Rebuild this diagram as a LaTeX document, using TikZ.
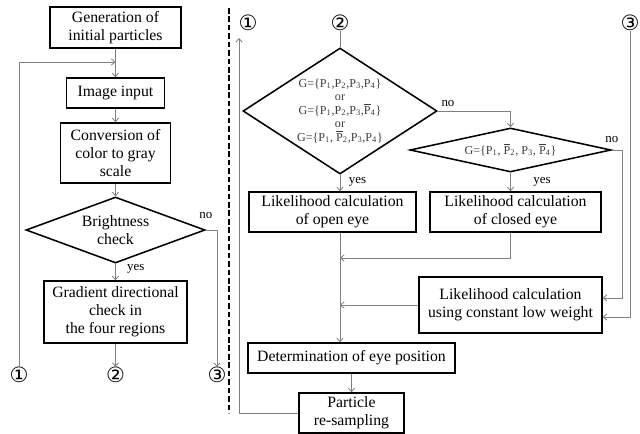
\documentclass[tikz,border=0pt]{standalone}
\usepackage{fontspec}
\setmainfont{Liberation Serif}
\newfontfamily\symfont{DejaVu Sans}
\usetikzlibrary{arrows.meta,shapes.geometric}
\definecolor{wire}{HTML}{808080}
\definecolor{gtext}{HTML}{3C3C3C}
\newcommand\Pn[1]{P\textsubscript{#1}}
\newcommand\Pbar[1]{$\overline{\mbox{P}}$\textsubscript{#1}}
\tikzset{box/.style={draw=black,line width=1.1pt,inner sep=0pt,align=center,
 font=\fontsize{11.2}{12.8}\selectfont},
 test/.style={draw=black,line width=1.1pt,shape=diamond,inner sep=0pt,align=center},
 gfont/.style={font=\fontsize{8.6}{9.6}\selectfont,text=gtext},
 arr/.style={-{Straight Barb[length=2.5pt,width=4.5pt]},line width=.6pt,draw=wire},
 wireline/.style={line width=.6pt,draw=wire},
 lbl/.style={font=\fontsize{9.2}{10}\selectfont,inner sep=1pt},
 cnum/.style={font=\symfont\fontsize{15}{15}\selectfont,inner sep=0pt}}

\begin{document}
\begin{tikzpicture}[x=0.025cm,y=-0.025cm]
\useasboundingbox (0,0) rectangle (640,434);
% left column
\node[box,minimum width=3.275cm,minimum height=1.025cm] (gen) at (115.5,27.5) {Generation of\\initial particles};
\node[box,minimum width=2.45cm,minimum height=.75cm] (img) at (115.5,93) {Image input};
\node[box,minimum width=2.75cm,minimum height=1.5cm] (conv) at (115.5,153) {Conversion of\\color to gray\\scale};
\node[test,minimum width=4.475cm,minimum height=1.65cm,aspect=2.7,
 font=\fontsize{11.2}{12.8}\selectfont] (bright) at (115.5,230) {Brightness\\check};
\node[box,minimum width=3.575cm,minimum height=1.55cm] (grad) at (115.5,312) {Gradient directional\\check in\\the four regions};
\node[cnum] (c1L) at (19,375) {①};
\node[cnum] (c2L) at (115.5,375) {②};
\node[cnum] (c3L) at (217,375) {③};
\coordinate (join) at (115.5,62);

\draw[arr] (gen) -- (img);
\draw[arr] (img) -- (conv);
\draw[arr] (conv) -- (bright);
\draw[arr] (bright) -- node[lbl,pos=.33,right=7pt]{yes} (grad);
\draw[arr] (grad) -- (c2L);
\draw[arr] (c1L.north) |- (join);
\draw[arr] (bright.east) -| node[lbl,pos=0,above=7pt]{no} (c3L.north);

% separator
\draw[line width=1.4pt,dash pattern=on 4pt off 2pt] (229,8) -- (229,413);

% right column
\node[cnum] (c1R) at (248,23) {①};
\node[cnum] (c2R) at (340,23) {②};
\node[cnum] (c3R) at (630,23) {③};
\node[test,gfont,minimum width=4.85cm,minimum height=3.15cm,aspect=1.54] (big) at (340,111)
 {G=\{\Pn1,\Pn2,\Pn3,\Pn4\}\\or\\G=\{\Pn1,\Pn2,\Pn3,\Pbar4\}\\or\\G=\{\Pn1, \Pbar2,\Pn3,\Pn4\}};
\node[test,gfont,minimum width=5.025cm,minimum height=1.1cm,aspect=4.57] (dia2) at (510.5,150)
 {G=\{\Pn1, \Pbar2, \Pn3, \Pbar4\}};
\node[box,minimum width=4.175cm,minimum height=1cm] (open) at (332.5,212) {Likelihood calculation\\of open eye};
\node[box,minimum width=4.275cm,minimum height=1cm] (closed) at (515.5,212) {Likelihood calculation\\of closed eye};
\node[box,minimum width=4.575cm,minimum height=1.4cm] (low) at (510.5,305) {Likelihood calculation\\using constant low weight};
\node[box,minimum width=5.175cm,minimum height=.75cm] (det) at (351.5,358) {Determination of eye position};
\node[box,minimum width=2.625cm,minimum height=1cm] (resamp) at (351.5,413) {Particle\\re-sampling};
\coordinate (up) at (239,38);
\coordinate (nob) at (622,298);
\coordinate (c3b) at (631,317);
\coordinate (mrg) at (340,258);

\draw[wireline] (c2R) -- (big);
\draw[arr] (big.east) -| node[lbl,pos=.07,above=2pt]{no} (dia2.north);
\draw[arr] (big.south) -- node[lbl,pos=.45,right=5pt]{yes} (big.south |- open.north);
\draw[arr] (dia2) -- node[lbl,pos=.5,right=15pt]{yes} (dia2 |- closed.north);
\draw[arr] (dia2.east) -| node[lbl,pos=0,above=4pt]{no} (nob) -- (nob -| low.east);
\draw[arr] (c3R.south) |- (c3b -| low.east);
\draw[arr] (big.south |- open.south) -- (big.south |- det.north);
\draw[arr] (dia2 |- closed.south) |- (mrg);
\draw[arr] (low.west) -- (low.west -| big.south);
\draw[arr] (det.south) -- (resamp.north);
\draw[arr] (resamp.west) -| (up);
\end{tikzpicture}
\end{document}
